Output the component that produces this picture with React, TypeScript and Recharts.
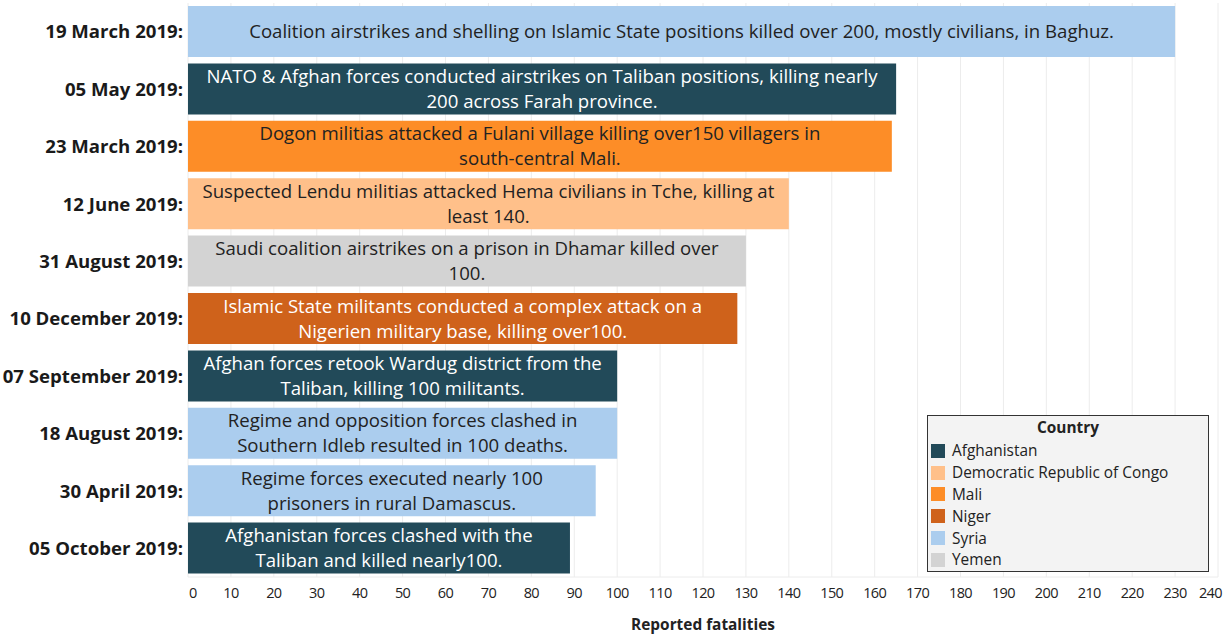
import { Bar, BarChart, CartesianGrid, Cell, LabelList, XAxis, YAxis } from "recharts";

// event dates (top to bottom)
const dates = [
  "19 March 2019:",
  "05 May 2019:",
  "23 March 2019:",
  "12 June 2019:",
  "31 August 2019:",
  "10 December 2019:",
  "07 September 2019:",
  "18 August 2019:",
  "30 April 2019:",
  "05 October 2019:",
];

const fatalities = [230, 165, 164, 140, 130, 128, 100, 100, 95, 89];

const eventCountry = [
  "Syria",
  "Afghanistan",
  "Mali",
  "Democratic Republic of Congo",
  "Yemen",
  "Niger",
  "Afghanistan",
  "Syria",
  "Syria",
  "Afghanistan",
];

const descriptions = [
  ["Coalition airstrikes and shelling on Islamic State positions killed over 200, mostly civilians, in Baghuz."],
  ["NATO & Afghan forces conducted airstrikes on Taliban positions, killing nearly", "200 across Farah province."],
  ["Dogon militias attacked a Fulani village killing over150 villagers in", "south-central Mali."],
  ["Suspected Lendu militias attacked Hema civilians in Tche, killing at", "least 140."],
  ["Saudi coalition airstrikes on a prison in Dhamar killed over", "100."],
  ["Islamic State militants conducted a complex attack on a", "Nigerien military base, killing over100."],
  ["Afghan forces retook Wardug district from the", "Taliban, killing 100 militants."],
  ["Regime and opposition forces clashed in", "Southern Idleb resulted in 100 deaths."],
  ["Regime forces executed nearly 100", "prisoners in rural Damascus."],
  ["Afghanistan forces clashed with the", "Taliban and killed nearly100."],
];

const countries = ["Afghanistan", "Democratic Republic of Congo", "Mali", "Niger", "Syria", "Yemen"];

const xTicks = [0, 10, 20, 30, 40, 50, 60, 70, 80, 90, 100, 110, 120, 130, 140, 150, 160, 170, 180, 190, 200, 210, 220, 230, 240];

const colors: Record<string, string> = {
  Afghanistan: "#224a59",
  "Democratic Republic of Congo": "#ffc08a",
  Mali: "#fd8d27",
  Niger: "#cf621b",
  Syria: "#abcdee",
  Yemen: "#d3d3d3",
};
const textColors: Record<string, string> = {
  Afghanistan: "#ffffff",
  Niger: "#ffffff",
};

const chartData = dates.map((d, i) => ({
  date: d,
  value: fatalities[i],
  country: eventCountry[i],
}));

const FONT = "'Open Sans', sans-serif";

const renderLabel = (props: any) => {
  const { x, y, width, height, index } = props;
  const lines: string[] = descriptions[index];
  const cx = x + width / 2;
  const cy = y + height / 2;
  const lh = 25;
  const start = cy - ((lines.length - 1) * lh) / 2;
  const fill = textColors[eventCountry[index]] || "#222";
  return (
    <text x={cx} textAnchor="middle" fontFamily={FONT} fontSize={18.6} fill={fill}>
      {lines.map((l, k) => (
        <tspan key={k} x={cx} y={start + k * lh} dy="0.36em">
          {l}
        </tspan>
      ))}
    </text>
  );
};

// first and last tick labels are pulled inside the plot edge
const renderXTick = (props: any) => {
  const { x, y, payload, index } = props;
  const last = index === xTicks.length - 1;
  const anchor = index === 0 ? "start" : last ? "end" : "middle";
  const tx = index === 0 ? x + 1 : last ? x + 4 : x;
  return (
    <text x={tx} y={y + 3} dy="0.71em" textAnchor={anchor} fontFamily={FONT} fontSize={14.5} fill="#222" letterSpacing={-0.6}>
      {payload.value}
    </text>
  );
};

const LegendBox = () => (
  <div
    style={{
      position: "absolute",
      left: 927,
      top: 415,
      width: 280,
      height: 155,
      background: "#f3f3f3",
      border: "1px solid #333",
      fontFamily: FONT,
      fontSize: 15.4,
      color: "#222",
    }}
  >
    <div style={{ textAlign: "center", fontWeight: 700, height: 24, lineHeight: "24px" }}>Country</div>
    {countries.map((c) => (
      <div key={c} style={{ display: "flex", alignItems: "center", height: 21.8, paddingLeft: 3 }}>
        <span style={{ width: 14, height: 14, background: colors[c], display: "inline-block", marginRight: 7 }} />
        <span>{c}</span>
      </div>
    ))}
  </div>
);

export default function App() {
  return (
    <div style={{ position: "absolute", left: 0, top: 0, width: 1225, height: 634, background: "#fff" }}>
      <BarChart
        width={1225}
        height={634}
        data={chartData}
        layout="vertical"
        margin={{ top: 3, right: 7, left: 0, bottom: 0 }}
        barCategoryGap={3}
      >
        <CartesianGrid horizontal={false} stroke="#ececec" />
        <XAxis
          type="number"
          dataKey="value"
          domain={[0, 240]}
          ticks={xTicks}
          interval={0}
          height={57}
          tickLine={false}
          axisLine={{ stroke: "#ececec" }}
          tick={renderXTick}
          label={{
            value: "Reported fatalities",
            position: "insideBottom",
            offset: 4,
            style: { fontFamily: FONT, fontSize: 15.4, fontWeight: 700, fill: "#222" },
          }}
        />
        <YAxis
          type="category"
          dataKey="date"
          width={188}
          tickLine={false}
          axisLine={false}
          tickSize={0}
          tickMargin={5}
          interval={0}
          tick={{ fontFamily: FONT, fontSize: 18.6, fontWeight: 700, fill: "#1a1a1a" }}
        />
        <Bar dataKey="value" isAnimationActive={false}>
          {chartData.map((d, i) => (
            <Cell key={i} fill={colors[d.country]} />
          ))}
          <LabelList dataKey="value" content={renderLabel} />
        </Bar>
      </BarChart>
      <LegendBox />
    </div>
  );
}
